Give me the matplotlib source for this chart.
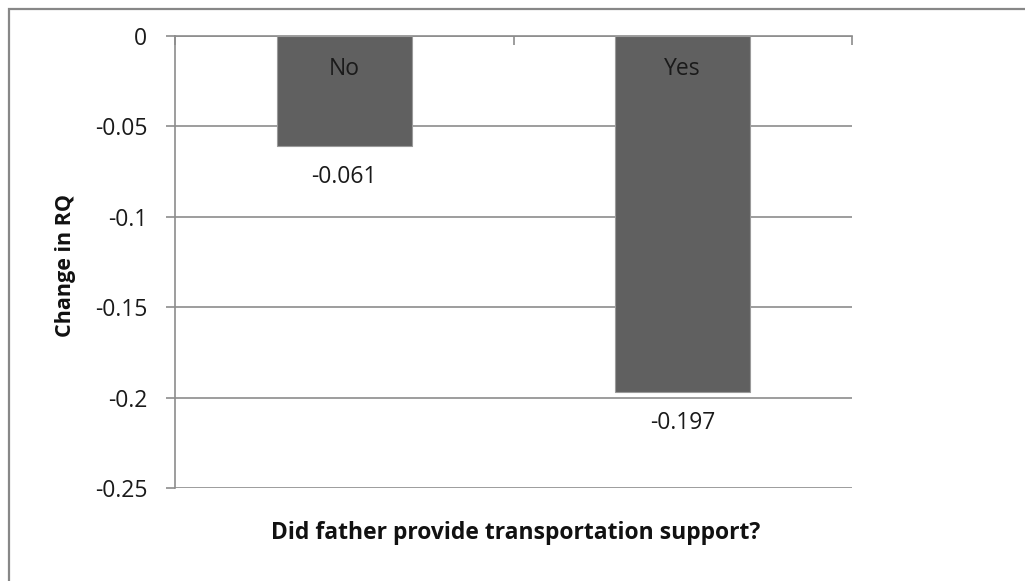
import matplotlib
matplotlib.use("Agg")
import matplotlib.pyplot as plt
from matplotlib.patches import Rectangle

# answers and mean change in RQ
groups = ["No", "Yes"]
change = [-0.061, -0.197]
yticks = [0, -0.05, -0.1, -0.15, -0.2, -0.25]
ytick_labels = ["0", "-0.05", "-0.1", "-0.15", "-0.2", "-0.25"]

plt.rcParams['font.family'] = ['Open Sans', 'DejaVu Sans']

W, H = 1025, 581
fig = plt.figure(figsize=(W / 100, H / 100), dpi=100)

# grey frame round the whole chart
fig.patches.append(Rectangle((8.5 / W, -0.1), 1.2, 1 - 8.5 / H + 0.1, transform=fig.transFigure,
                             fill=False, edgecolor='#878787', linewidth=1.6))

ax = fig.add_axes([175 / W, (H - 488) / H, 677 / W, 452 / H])

x = range(len(groups))
bars = ax.bar(x, change, width=0.4, color='#606060', edgecolor='#9a9a9a', linewidth=0.8, zorder=3)

for i, b in enumerate(bars):
    v = change[i]
    ax.text(i, -0.0185, groups[i], ha='center', va='center', fontsize=16.5, color='#1a1a1a', zorder=4)
    ax.text(i, v - 0.0172, "%.3f" % v, ha='center', va='center', fontsize=16.5, color='#1a1a1a')

ax.set_xlim(-0.5, 1.5)
ax.set_ylim(-0.25, 0)
ax.set_yticks(yticks)
ax.set_yticklabels(ytick_labels, fontsize=16.5)
ax.set_xticks([-0.5, 0.5, 1.5])
ax.set_xticklabels([])
ax.xaxis.tick_top()
ax.tick_params(axis='x', direction='in', length=6.5, width=1.2, color='#8c8c8c', top=True, bottom=False)
ax.tick_params(axis='y', direction='out', length=6.5, width=1.2, color='#8c8c8c', pad=13.5, labelcolor='#1a1a1a')

ax.grid(axis='y', color='#8c8c8c', linewidth=1.2, zorder=0)
for s in ['right', 'bottom']:
    ax.spines[s].set_visible(False)
for s in ['left', 'top']:
    ax.spines[s].set_color('#8c8c8c')
    ax.spines[s].set_linewidth(1.2)

fig.text(516 / W, 1 - 533 / H, "Did father provide transportation support?", ha='center', va='center',
         fontsize=16.5, fontweight='bold', color='#111111')
fig.text(65 / W, 1 - 266 / H, "Change in RQ", ha='center', va='center', rotation=90,
         fontsize=15.5, fontweight='bold', color='#111111')

fig.savefig("out.png", dpi=100)
